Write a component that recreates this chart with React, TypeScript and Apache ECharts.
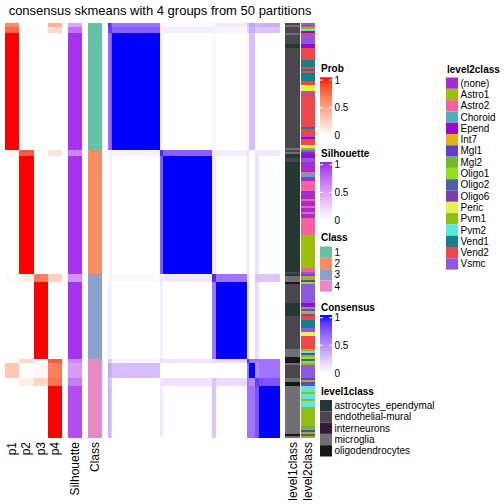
import React, { useEffect, useRef } from "react";
import * as echarts from "echarts";

const TITLE = "consensus skmeans with 4 groups from 50 partitions";
const FONT = "'Liberation Sans', Arial, Helvetica, sans-serif";

// ---- row segments (samples in plotted order) ----
const segmentCounts = [2, 3, 56, 3, 57, 4, 37, 2, 7, 4, 25];
const segmentClass = [1, 1, 1, 2, 2, 3, 3, 4, 4, 4, 4];
const probP1 = [0.6, 0.75, 1, 0.05, 0, 0.02, 0, 0, 0.3, 0, 0];
const probP2 = [0, 0.03, 0, 0.8, 1, 0.08, 0, 0.2, 0, 0.08, 0];
const probP3 = [0, 0.02, 0, 0, 0, 0.65, 1, 0, 0.05, 0.22, 0];
const probP4 = [0.4, 0.2, 0, 0.15, 0, 0.25, 0, 0.8, 0.65, 0.7, 1];
const silhouetteValues = [0.45, 0.7, 0.95, 0.6, 0.95, 0.55, 0.95, 0.6, 0.5, 0.65, 0.85];
// consensus between segments (symmetric)
const consensusMatrix = [
  [0.9, 0.8, 0.62, 0.05, 0.02, 0.05, 0.08, 0.25, 0.4, 0.3, 0.35],
  [0.8, 0.85, 0.7, 0.05, 0.08, 0.05, 0.05, 0.2, 0.35, 0.25, 0.25],
  [0.62, 0.7, 1, 0.06, 0, 0.03, 0, 0.04, 0.28, 0, 0],
  [0.05, 0.05, 0.06, 0.9, 0.7, 0.1, 0.08, 0.15, 0, 0.1, 0.1],
  [0.02, 0.08, 0, 0.7, 1, 0.1, 0, 0.12, 0, 0.12, 0],
  [0.05, 0.05, 0.03, 0.1, 0.1, 0.9, 0.6, 0.15, 0, 0.25, 0.25],
  [0.08, 0.05, 0, 0.08, 0, 0.6, 1, 0.15, 0, 0.15, 0],
  [0.25, 0.2, 0.04, 0.15, 0.12, 0.15, 0.15, 0.9, 0.6, 0.6, 0.6],
  [0.4, 0.35, 0.28, 0, 0, 0, 0, 0.6, 1, 0.5, 0.6],
  [0.3, 0.25, 0, 0.1, 0.12, 0.25, 0.15, 0.6, 0.5, 0.85, 0.75],
  [0.35, 0.25, 0, 0.1, 0, 0.25, 0, 0.6, 0.6, 0.75, 1],
];

const probLabels = ["p1", "p2", "p3", "p4"];
const classLevels = ["1", "2", "3", "4"];
const classColors = ["#66C2A5", "#FC8D62", "#8DA0CB", "#E78AC3"];

// ---- level1class ----
const level1Names = ["astrocytes_ependymal", "endothelial-mural", "interneurons", "microglia", "oligodendrocytes"];
const level1Codes = ["A", "E", "I", "M", "O"];
const level1Colors = ["#263833", "#4B464D", "#361A33", "#6E7074", "#161616"];
const level1RunCode = ["E", "M", "E", "M", "E", "A", "E", "M", "E", "M", "A", "E", "A", "E", "A", "M", "O", "E", "A", "E", "M", "O", "M", "E", "M", "O", "M", "O", "M"];
const level1RunCount = [1, 1, 3, 1, 4, 2, 48, 1, 1, 1, 2, 2, 53, 1, 1, 3, 1, 9, 6, 16, 4, 3, 1, 6, 2, 2, 23, 1, 1];

// ---- level2class ----
const level2Names = ["(none)", "Astro1", "Astro2", "Choroid", "Epend", "Int7", "Mgl1", "Mgl2", "Oligo1", "Oligo2", "Oligo6", "Peric", "Pvm1", "Pvm2", "Vend1", "Vend2", "Vsmc"];
const level2Colors = ["#A52DD0", "#9DBF0C", "#F8619C", "#4DB0BE", "#9E06C8", "#E0B418", "#5B3FCB", "#73B634", "#8EE21D", "#4B5DB2", "#7B3DA6", "#E6F24C", "#91BE14", "#5AE8DE", "#157F8E", "#EE4749", "#9057E0"];
const level2RunName = ["Vsmc", "Vend2", "Pvm1", "Pvm2", "Epend", "Vend2", "Vsmc", "Epend", "Vend2", "Vend1", "Vend2", "Vend1", "Vend2", "Vend1", "Vend2", "Peric", "Vend2", "Vsmc", "Vend2", "Vend1", "Vend2", "Vsmc", "Epend", "Vend2", "Peric", "Pvm1", "Vsmc", "Mgl1", "Epend", "Vsmc", "(none)", "Astro2", "Choroid", "(none)", "Astro2", "(none)", "Astro2", "(none)", "Astro2", "(none)", "Astro2", "(none)", "Astro2", "Astro1", "Astro2", "Vsmc", "(none)", "Pvm1", "Mgl1", "Oligo1", "Vsmc", "Epend", "Choroid", "(none)", "Astro1", "(none)", "Vend2", "Vend1", "Vsmc", "Peric", "Vend2", "Pvm1", "Pvm2", "Mgl1", "Pvm1", "Oligo1", "Oligo2", "Oligo1", "Pvm1", "Vsmc", "Mgl1", "Pvm1", "Oligo6", "Oligo2", "Pvm2", "Pvm1", "Pvm2", "Pvm1", "Pvm2", "Pvm1", "Mgl2", "Mgl1", "Pvm1", "Oligo6", "Pvm1"];
const level2RunCount = [1, 1, 1, 1, 1, 1, 4, 2, 6, 3, 1, 1, 1, 4, 2, 3, 1, 1, 15, 1, 3, 1, 1, 3, 1, 1, 1, 1, 2, 2, 5, 1, 1, 2, 5, 4, 1, 2, 1, 2, 1, 2, 8, 16, 2, 1, 1, 2, 1, 1, 9, 2, 1, 1, 1, 1, 2, 4, 2, 2, 6, 1, 1, 1, 1, 1, 1, 1, 1, 6, 1, 1, 1, 1, 3, 1, 2, 1, 3, 9, 2, 1, 1, 1, 1];

// ---- colour helpers (LAB interpolation white -> colour) ----
function toLin(c: number) {
  c /= 255;
  return c <= 0.04045 ? c / 12.92 : Math.pow((c + 0.055) / 1.055, 2.4);
}
function fromLin(c: number) {
  c = Math.min(1, Math.max(0, c));
  const v = c <= 0.0031308 ? 12.92 * c : 1.055 * Math.pow(c, 1 / 2.4) - 0.055;
  return Math.round(v * 255);
}
function hexToLab(h: string) {
  const r = toLin(parseInt(h.slice(1, 3), 16));
  const g = toLin(parseInt(h.slice(3, 5), 16));
  const b = toLin(parseInt(h.slice(5, 7), 16));
  const X = (0.4124 * r + 0.3576 * g + 0.1805 * b) / 0.95047;
  const Y = 0.2126 * r + 0.7152 * g + 0.0722 * b;
  const Z = (0.0193 * r + 0.1192 * g + 0.9505 * b) / 1.08883;
  const f = (t: number) => (t > 0.008856 ? Math.cbrt(t) : 7.787 * t + 16 / 116);
  const fx = f(X), fy = f(Y), fz = f(Z);
  return [116 * fy - 16, 500 * (fx - fy), 200 * (fy - fz)];
}
function labToHex(lab: number[]) {
  const fy = (lab[0] + 16) / 116;
  const fx = fy + lab[1] / 500;
  const fz = fy - lab[2] / 200;
  const inv = (t: number) => (t * t * t > 0.008856 ? t * t * t : (t - 16 / 116) / 7.787);
  const X = 0.95047 * inv(fx), Y = inv(fy), Z = 1.08883 * inv(fz);
  const r = 3.2406 * X - 1.5372 * Y - 0.4986 * Z;
  const g = -0.9689 * X + 1.8758 * Y + 0.0415 * Z;
  const b = 0.0557 * X - 0.204 * Y + 1.057 * Z;
  const hx = (v: number) => fromLin(v).toString(16).padStart(2, "0");
  return "#" + hx(r) + hx(g) + hx(b);
}
function makeRamp(hex: string) {
  const w = hexToLab("#FFFFFF");
  const c = hexToLab(hex);
  return (t: number) => {
    const u = Math.min(1, Math.max(0, t));
    return labToHex([w[0] + (c[0] - w[0]) * u, w[1] + (c[1] - w[1]) * u, w[2] + (c[2] - w[2]) * u]);
  };
}
const probRamp = makeRamp("#FF0000");
const silRamp = makeRamp("#A020F0");
const consRamp = makeRamp("#0000FF");

function starts(counts: number[]) {
  const s: number[] = [];
  let acc = 0;
  counts.forEach((c) => { s.push(acc); acc += c; });
  s.push(acc);
  return s;
}

export default function App() {
  const ref = useRef<HTMLDivElement>(null);
  useEffect(() => {
    document.body.style.margin = "0";
    const el = ref.current!;
    const chart = echarts.init(el, null, { renderer: "svg" });

    const segStart = starts(segmentCounts);
    const N = segStart[segStart.length - 1];

    const probs = [probP1, probP2, probP3, probP4];
    const probData: any[] = [];
    const probCol: string[] = [];
    probs.forEach((arr, k) => arr.forEach((v, i) => {
      probData.push([k, segStart[i], segStart[i + 1], v]);
      probCol.push(probRamp(v));
    }));
    const silData: any[] = [];
    const silCol: string[] = [];
    silhouetteValues.forEach((v, i) => { silData.push([0, segStart[i], segStart[i + 1], v]); silCol.push(silRamp(v)); });
    const clsData: any[] = [];
    const clsCol: string[] = [];
    segmentClass.forEach((c, i) => { clsData.push([0, segStart[i], segStart[i + 1], c]); clsCol.push(classColors[c - 1]); });

    const consData: any[] = [];
    const consCol: string[] = [];
    consensusMatrix.forEach((row, i) => row.forEach((v, j) => {
      consData.push([segStart[j], segStart[j + 1], segStart[i], segStart[i + 1], v]);
      consCol.push(consRamp(v));
    }));

    const l1Start = starts(level1RunCount);
    const l1Data: any[] = [];
    const l1Col: string[] = [];
    level1RunCode.forEach((c, i) => {
      l1Data.push([0, l1Start[i], l1Start[i + 1], level1Codes.indexOf(c)]);
      l1Col.push(level1Colors[level1Codes.indexOf(c)]);
    });
    const l2Start = starts(level2RunCount);
    const l2Data: any[] = [];
    const l2Col: string[] = [];
    level2RunName.forEach((c, i) => {
      l2Data.push([0, l2Start[i], l2Start[i + 1], level2Names.indexOf(c)]);
      l2Col.push(level2Colors[level2Names.indexOf(c)]);
    });

    const bandRender = (cols: string[]) => (params: any, api: any) => {
      const c = api.value(0);
      const a = api.coord([c, api.value(1)]);
      const b = api.coord([c, api.value(2)]);
      const w = api.size([1, 0])[0];
      const x0 = Math.round(a[0] - w / 2), x1 = Math.round(a[0] + w / 2);
      const y0 = Math.round(a[1]), y1 = Math.round(b[1]);
      return { type: "rect", shape: { x: x0, y: y0, width: x1 - x0, height: y1 - y0 }, style: { fill: cols[params.dataIndex] } };
    };
    const matRender = (params: any, api: any) => {
      const a = api.coord([api.value(0), api.value(2)]);
      const b = api.coord([api.value(1), api.value(3)]);
      const x0 = Math.round(a[0]), x1 = Math.round(b[0]);
      const y0 = Math.round(a[1]), y1 = Math.round(b[1]);
      return { type: "rect", shape: { x: x0, y: y0, width: x1 - x0, height: y1 - y0 }, style: { fill: consCol[params.dataIndex] } };
    };

    const top = 23, height = 415;
    const grids = [
      { left: 5, top, width: 57, height },
      { left: 68, top, width: 14, height },
      { left: 88, top, width: 14, height },
      { left: 108, top, width: 172, height },
      { left: 285, top, width: 15, height },
      { left: 301, top, width: 14, height },
    ];
    const catAxis = (gi: number, data: string[]) => ({
      gridIndex: gi, type: "category", data, position: "bottom",
      axisLine: { show: false }, axisTick: { show: false }, splitLine: { show: false },
      axisLabel: { rotate: 90, fontSize: 12, color: "#000", fontFamily: FONT, margin: 4, interval: 0 },
    });
    const xAxes: any[] = [
      catAxis(0, probLabels),
      catAxis(1, ["Silhouette"]),
      catAxis(2, ["Class"]),
      { gridIndex: 3, type: "value", min: 0, max: N, show: false },
      catAxis(4, ["level1class"]),
      catAxis(5, ["level2class"]),
    ];
    const yAxes: any[] = grids.map((_, gi) => ({ gridIndex: gi, type: "value", min: 0, max: N, inverse: true, show: false }));

    const series: any[] = [
      { type: "custom", xAxisIndex: 0, yAxisIndex: 0, renderItem: bandRender(probCol), data: probData, encode: { x: 0, y: [1, 2] } },
      { type: "custom", xAxisIndex: 1, yAxisIndex: 1, renderItem: bandRender(silCol), data: silData, encode: { x: 0, y: [1, 2] } },
      { type: "custom", xAxisIndex: 2, yAxisIndex: 2, renderItem: bandRender(clsCol), data: clsData, encode: { x: 0, y: [1, 2] } },
      { type: "custom", xAxisIndex: 3, yAxisIndex: 3, renderItem: matRender, data: consData, encode: { x: [0, 1], y: [2, 3] } },
      { type: "custom", xAxisIndex: 4, yAxisIndex: 4, renderItem: bandRender(l1Col), data: l1Data, encode: { x: 0, y: [1, 2] } },
      { type: "custom", xAxisIndex: 5, yAxisIndex: 5, renderItem: bandRender(l2Col), data: l2Data, encode: { x: 0, y: [1, 2] } },
    ];

    // ---- legends ----
    const g: any[] = [];
    const txt = (x: number, y: number, text: string, bold = false, size = 10) => ({
      type: "text", x, y, silent: true,
      style: { text, fill: "#000", fontSize: size, fontWeight: bold ? "bold" : "normal", fontFamily: FONT, align: "left", verticalAlign: "middle" },
    });
    g.push({ type: "text", x: 160, y: 10, silent: true, style: { text: TITLE, fill: "#000", fontSize: 13, fontFamily: FONT, align: "center", verticalAlign: "middle" } });

    const step = 11.3;
    const gradLegend = (title: string, titleY: number, barTop: number, ramp: (t: number) => string) => {
      g.push(txt(321, titleY, title, true));
      const stops: any[] = [];
      for (let k = 0; k <= 8; k++) stops.push({ offset: k / 8, color: ramp(1 - k / 8) });
      g.push({ type: "rect", silent: true, shape: { x: 320, y: barTop, width: 12, height: 58 }, style: { fill: new echarts.graphic.LinearGradient(0, 0, 0, 1, stops) } });
      const ticks = [[1, "1"], [0.5, "0.5"], [0, "0"]] as [number, string][];
      ticks.forEach(([v, lab]) => {
        const y = barTop + 2.7 + (1 - v) * 55.3;
        if (v > 0) {
          g.push({ type: "line", silent: true, shape: { x1: 320, y1: y, x2: 323, y2: y }, style: { stroke: "#fff", lineWidth: 1 } });
          g.push({ type: "line", silent: true, shape: { x1: 329, y1: y, x2: 332, y2: y }, style: { stroke: "#fff", lineWidth: 1 } });
        }
        g.push(txt(334.5, y, lab));
      });
    };
    const discLegend = (title: string, x: number, titleY: number, firstTop: number, labels: string[], colors: string[]) => {
      g.push(txt(x + 1, titleY, title, true));
      labels.forEach((lab, i) => {
        const y = firstTop + i * step;
        g.push({ type: "rect", silent: true, shape: { x, y, width: 12, height: step }, style: { fill: colors[i] } });
        g.push(txt(x + 14.5, y + step / 2, lab));
      });
    };
    gradLegend("Prob", 68.5, 77.3, probRamp);
    gradLegend("Silhouette", 153, 162, silRamp);
    discLegend("Class", 320, 237, 246.5, classLevels, classColors);
    gradLegend("Consensus", 307, 315, consRamp);
    discLegend("level1class", 320, 391, 400, level1Names, level1Colors);
    discLegend("level2class", 446, 69, 77.5, level2Names, level2Colors);

    chart.setOption({
      animation: false,
      backgroundColor: "#fff",
      textStyle: { fontFamily: FONT },
      grid: grids,
      xAxis: xAxes,
      yAxis: yAxes,
      series,
      graphic: g,
    });
    return () => chart.dispose();
  }, []);
  return <div ref={ref} style={{ width: 504, height: 504 }} />;
}
